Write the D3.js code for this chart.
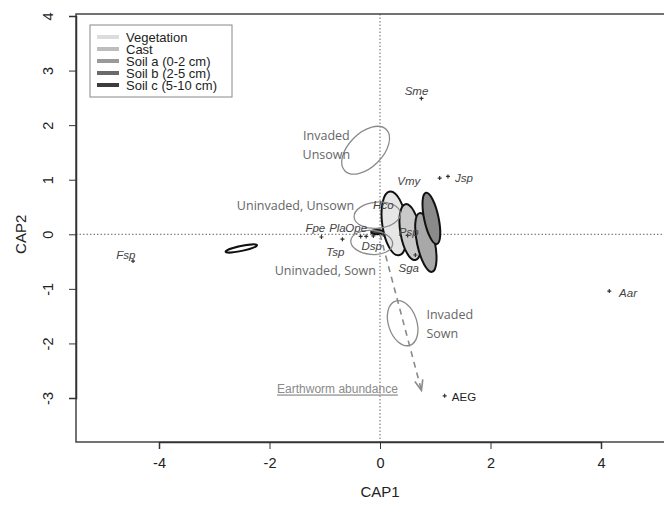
<!DOCTYPE html>
<html><head><meta charset="utf-8">
<script src="https://cdn.jsdelivr.net/npm/d3@7"></script>
<style>body{margin:0;background:#fff}svg{display:block}</style>
</head><body>
<script>
// ---------- data ----------
const xTicks = [-4, -2, 0, 2, 4];
const yTicks = [-3, -2, -1, 0, 1, 2, 3, 4];

const speciesNames = ["Sme","Vmy","Jsp","Aar","AEG","Fsp","Fpe","Pla","Ope","Tsp","Hco","Psp","Dsp","Sga"];
const speciesX     = [0.75, 1.08, 1.23, 4.15, 1.17, -4.47, -1.06, -0.35, -0.25, -0.68, 0.06, 0.50, -0.12, 0.64];
const speciesY     = [2.49, 1.03, 1.06, -1.04, -2.96, -0.49, -0.05, -0.04, -0.04, -0.09, -0.01, -0.02, -0.03, -0.38];
const labelX       = [0.66, 0.52, 1.52, 4.49, 1.52, -4.60, -1.17, -0.77, -0.43, -0.81, 0.06, 0.52, -0.15, 0.52];
const labelY       = [2.62, 0.97, 1.04, -1.08, -2.99, -0.37, 0.11, 0.11, 0.11, -0.33, 0.53, 0.04, -0.22, -0.62];

const substrateNames = ["Vegetation","Cast","Soil a (0-2 cm)","Soil b (2-5 cm)","Soil c (5-10 cm)"];
const legendColors   = ["#dcdcdc","#bdbdbd","#9a9a9a","#6a6a6a","#3c3c3c"];

// filled ellipses (substrates)
const ellCx    = [0.26, 0.55, 0.83, 0.93, -0.05, -2.51];
const ellCy    = [0.20, 0.04, -0.15, 0.29, 0.04, -0.26];
const ellRx    = [0.22, 0.18, 0.16, 0.13, 0.11, 0.29];
const ellRy    = [0.59, 0.52, 0.55, 0.48, 0.04, 0.045];
const ellAngle = [-8, -10, -12, -12, 0, -12];
const ellFill  = ["#e6e6e6","#c9c9c9","#a8a8a8","#8a8a8a","#444444","#ffffff"];

// treatment ellipses
const treatNames = ["Invaded Unsown","Uninvaded, Unsown","Uninvaded, Sown","Invaded Sown"];
const treatCx    = [-0.26, -0.05, -0.15, 0.41];
const treatCy    = [1.54, 0.35, -0.15, -1.63];
const treatRx    = [0.53, 0.42, 0.38, 0.42];
const treatRy    = [0.31, 0.24, 0.22, 0.26];
const treatAngle = [-45, -5, 5, 72];

// treatment labels
const treatLabelLines = [["Invaded","Unsown"],["Uninvaded, Unsown"],["Uninvaded, Sown"],["Invaded","Sown"]];
const treatLabelX     = [-0.97, -1.53, -0.99, 0.84];
const treatLabelY     = [1.80, 0.53, -0.66, -1.48];
const treatLabelAnchor= ["middle","middle","middle","start"];

// environmental vector
const vectorName = "Earthworm abundance";
const vectorX = 0.75, vectorY = -2.86;
const vectorLabelX = -0.77, vectorLabelY = -2.84;

// ---------- drawing ----------
const W = 664, H = 506;
const svg = d3.select("body").append("svg").attr("width", W).attr("height", H);

const x = d3.scaleLinear().domain([-4, 4]).range([159, 601]);
const y = d3.scaleLinear().domain([-3, 4]).range([398, 16]);
const box = {l: 76, t: 14, r: 700, b: 442};
const font = "'Liberation Sans', Arial, sans-serif";

svg.append("defs").append("clipPath").attr("id","clip")
  .append("rect").attr("x", box.l).attr("y", box.t).attr("width", box.r-box.l).attr("height", box.b-box.t);

const plot = svg.append("g").attr("clip-path","url(#clip)");

// reference lines
plot.append("line").attr("x1", box.l).attr("x2", box.r).attr("y1", y(0)).attr("y2", y(0))
  .attr("stroke","#666").attr("stroke-width",1).attr("stroke-dasharray","1.5,2");
plot.append("line").attr("x1", x(0)).attr("x2", x(0)).attr("y1", box.t).attr("y2", box.b)
  .attr("stroke","#666").attr("stroke-width",1).attr("stroke-dasharray","1.5,2");

const sx = v => x(v) - x(0);
const sy = v => y(0) - y(v);

// filled ellipses
plot.selectAll("ellipse.sub").data(ellCx).join("ellipse").attr("class","sub")
  .attr("transform", (d,i) => `translate(${x(ellCx[i])},${y(ellCy[i])}) rotate(${ellAngle[i]})`)
  .attr("rx", (d,i) => sx(ellRx[i])).attr("ry", (d,i) => sy(ellRy[i]))
  .attr("fill", (d,i) => ellFill[i]).attr("stroke", "#111").attr("stroke-width", 2);

// treatment ellipses
plot.selectAll("ellipse.trt").data(treatNames).join("ellipse").attr("class","trt")
  .attr("transform", (d,i) => `translate(${x(treatCx[i])},${y(treatCy[i])}) rotate(${treatAngle[i]})`)
  .attr("rx", (d,i) => sx(treatRx[i])).attr("ry", (d,i) => sy(treatRy[i]))
  .attr("fill", "none").attr("stroke", "#8a8a8a").attr("stroke-width", 1.3);

// vector
const x0 = x(0), y0 = y(0), x1 = x(vectorX), y1 = y(vectorY);
plot.append("line").attr("x1", x0).attr("y1", y0).attr("x2", x1).attr("y2", y1)
  .attr("stroke","#8a8a8a").attr("stroke-width",1.6).attr("stroke-dasharray","6,5");
const ang = Math.atan2(y1 - y0, x1 - x0);
const ah = 11, aw = 0.38;
plot.append("path")
  .attr("d", `M${x1 - ah*Math.cos(ang - aw)},${y1 - ah*Math.sin(ang - aw)} L${x1},${y1} L${x1 - ah*Math.cos(ang + aw)},${y1 - ah*Math.sin(ang + aw)}`)
  .attr("fill","none").attr("stroke","#8a8a8a").attr("stroke-width",1.6);
plot.append("text").attr("x", x(vectorLabelX)).attr("y", y(vectorLabelY)).attr("dy","0.35em")
  .attr("text-anchor","middle").attr("font-family", font).attr("font-size", 12)
  .attr("fill","#8a8a8a").attr("text-decoration","underline").text(vectorName);

// species markers
plot.selectAll("path.sp").data(speciesNames).join("path").attr("class","sp")
  .attr("transform", (d,i) => `translate(${x(speciesX[i])},${y(speciesY[i])})`)
  .attr("d", "M-2,0H2M0,-2V2").attr("stroke","#333").attr("stroke-width",1.2);

// species labels
plot.selectAll("text.sp").data(speciesNames).join("text").attr("class","sp")
  .attr("x", (d,i) => x(labelX[i])).attr("y", (d,i) => y(labelY[i])).attr("dy","0.35em")
  .attr("text-anchor","middle").attr("font-family", font).attr("font-size", 11.5)
  .attr("font-style", d => d === "AEG" ? "normal" : "italic")
  .attr("fill", d => d === "AEG" ? "#222" : "#444").text(d => d);

// treatment labels
treatLabelLines.forEach((lines, i) => {
  const t = plot.append("text").attr("x", x(treatLabelX[i])).attr("y", y(treatLabelY[i]))
    .attr("text-anchor", treatLabelAnchor[i])
    .attr("font-family","'Open Sans', sans-serif").attr("font-size", 12.5).attr("fill","#666");
  lines.forEach((ln, j) => t.append("tspan").attr("x", x(treatLabelX[i])).attr("dy", j === 0 ? "0.35em" : 19).text(ln));
});

// box
svg.append("rect").attr("x", box.l).attr("y", box.t).attr("width", box.r - box.l).attr("height", box.b - box.t)
  .attr("fill","none").attr("stroke","#444").attr("stroke-width",1.5);

// axes
const xAxis = svg.append("g").attr("transform", `translate(0,${box.b})`)
  .call(d3.axisBottom(x).tickValues(xTicks).tickSize(7).tickPadding(9));
const yAxis = svg.append("g").attr("transform", `translate(${box.l},0)`)
  .call(d3.axisLeft(y).tickValues(yTicks).tickSize(7));
[xAxis, yAxis].forEach(a => {
  a.select(".domain").attr("stroke","#333").attr("stroke-width",1.5);
  a.selectAll(".tick line").attr("stroke","#333");
  a.selectAll("text").attr("font-family", font).attr("font-size", 14.5).attr("fill","#222");
});
xAxis.selectAll(".tick text").text(d => d < 0 ? "-" + Math.abs(d) : d);
yAxis.selectAll(".tick text").text(d => d < 0 ? "-" + Math.abs(d) : d)
  .attr("text-anchor","middle").attr("x", 0).attr("y", 0).attr("dy","0.35em")
  .attr("transform", "translate(-28,0) rotate(-90)");

svg.append("text").attr("x", x(0)).attr("y", 497).attr("text-anchor","middle")
  .attr("font-family", font).attr("font-size", 15).attr("fill","#222").text("CAP1");
svg.append("text").attr("transform", `translate(21,${y(0)}) rotate(-90)`).attr("dy","0.35em").attr("text-anchor","middle")
  .attr("font-family", font).attr("font-size", 15).attr("fill","#222").text("CAP2");

// legend
const lg = svg.append("g");
lg.append("rect").attr("x", 90).attr("y", 25).attr("width", 142).attr("height", 72)
  .attr("fill","#fff").attr("stroke","#888").attr("stroke-width",1);
substrateNames.forEach((n, i) => {
  const yy = 37 + i * 12;
  lg.append("line").attr("x1", 97).attr("x2", 119).attr("y1", yy).attr("y2", yy)
    .attr("stroke", legendColors[i]).attr("stroke-width", 4);
  lg.append("text").attr("x", 126).attr("y", yy).attr("dy","0.35em")
    .attr("font-family", font).attr("font-size", 13).attr("fill","#222").text(n);
});
</script>
</body></html>
